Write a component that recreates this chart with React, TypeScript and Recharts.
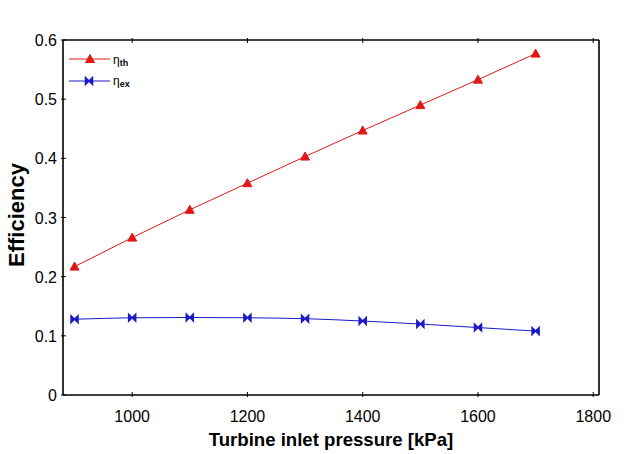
import * as React from 'react';
import { LineChart, Line, XAxis, YAxis, Customized } from 'recharts';

const pressures = [900, 1000, 1100, 1200, 1300, 1400, 1500, 1600, 1700];
const etaTh = [0.217, 0.266, 0.313, 0.358, 0.403, 0.447, 0.490, 0.533, 0.577];
const etaEx = [0.128, 0.1305, 0.131, 0.1305, 0.129, 0.125, 0.120, 0.114, 0.108];
const xTicks = [1000, 1200, 1400, 1600, 1800];
const yTicks = [0, 0.1, 0.2, 0.3, 0.4, 0.5, 0.6];

const data = pressures.map((p, i) => ({ p, th: etaTh[i], ex: etaEx[i] }));

const RED = '#e01818';
const BLUE = '#1a1ac8';
const FONT = '"Liberation Sans", Arial, sans-serif';

const Triangle = (props: any) => {
  const { cx, cy } = props;
  if (cx == null || cy == null) return null;
  return <path d={`M${cx},${cy - 4.5} L${cx + 4.5},${cy + 3.5} L${cx - 4.5},${cy + 3.5} Z`} fill={RED} stroke={RED} />;
};

const Bowtie = (props: any) => {
  const { cx, cy } = props;
  if (cx == null || cy == null) return null;
  return (
    <g stroke={BLUE} strokeWidth={1.5} fill={BLUE}>
      <path d={`M${cx - 3.5},${cy - 3.5} L${cx},${cy} L${cx - 3.5},${cy + 3.5} Z`} />
      <path d={`M${cx + 3.5},${cy - 3.5} L${cx},${cy} L${cx + 3.5},${cy + 3.5} Z`} />
    </g>
  );
};

const BottomTick = (props: any) => {
  const { x, y, payload } = props;
  return (
    <g>
      <line x1={x} y1={y} x2={x} y2={y - 5} stroke="#000" strokeWidth={1} />
      <text x={x} y={y + 25} textAnchor="middle" fontSize={16} fontFamily={FONT} fill="#000">
        {payload.value}
      </text>
    </g>
  );
};

const TopTick = (props: any) => {
  const { x, y } = props;
  return <line x1={x} y1={y} x2={x} y2={y + 5} stroke="#000" strokeWidth={1} />;
};

const LeftTick = (props: any) => {
  const { x, y, payload } = props;
  return (
    <g>
      <line x1={x} y1={y} x2={x + 5} y2={y} stroke="#000" strokeWidth={1} />
      <text x={x - 4} y={y + 6} textAnchor="end" fontSize={16} fontFamily={FONT} fill="#000">
        {payload.value}
      </text>
    </g>
  );
};

const RightTick = (props: any) => {
  const { x, y } = props;
  return <line x1={x} y1={y} x2={x - 5} y2={y} stroke="#000" strokeWidth={1} />;
};

const Overlay = () => (
  <g fontFamily={FONT}>
    <line x1={69} y1={59} x2={110} y2={59} stroke={RED} strokeWidth={1} />
    <Triangle cx={90} cy={59} />
    <text x={113} y={64} fontSize={12} fill="#000">
      η<tspan fontSize={9} fontWeight="bold" dy={2}>th</tspan>
    </text>
    <line x1={69} y1={81} x2={110} y2={81} stroke={BLUE} strokeWidth={1} />
    <Bowtie cx={89} cy={81} />
    <text x={113} y={85} fontSize={12} fill="#000">
      η<tspan fontSize={9} fontWeight="bold" dy={2}>ex</tspan>
    </text>
    <text x={331} y={446} textAnchor="middle" fontSize={18.6} fontWeight="bold" fill="#000">
      Turbine inlet pressure [kPa]
    </text>
    <text x={24} y={215} textAnchor="middle" fontSize={22} fontWeight="bold" fill="#000" transform="rotate(-90 24 215)">
      Efficiency
    </text>
  </g>
);

export default function App() {
  return (
    <div style={{ position: 'absolute', left: 0, top: 0, width: 640, height: 454, background: '#fff' }}>
      <LineChart width={640} height={454} data={data} margin={{ top: 39, right: 40, left: 0, bottom: 0 }}>
        <XAxis
          dataKey="p"
          type="number"
          domain={[880, 1810]}
          ticks={xTicks}
          allowDataOverflow
          height={59}
          tickSize={0}
          tickLine={false}
          tick={<BottomTick />}
          axisLine={{ stroke: '#000', strokeWidth: 1.6 }}
        />
        <XAxis
          xAxisId="top"
          orientation="top"
          dataKey="p"
          type="number"
          domain={[880, 1810]}
          ticks={xTicks}
          allowDataOverflow
          height={1}
          tickSize={0}
          tickLine={false}
          tick={<TopTick />}
          axisLine={{ stroke: '#000', strokeWidth: 1.6 }}
        />
        <YAxis
          type="number"
          domain={[0, 0.6]}
          ticks={yTicks}
          width={63}
          tickSize={0}
          tickLine={false}
          tick={<LeftTick />}
          axisLine={{ stroke: '#000', strokeWidth: 1.6 }}
        />
        <YAxis
          yAxisId="right"
          orientation="right"
          type="number"
          domain={[0, 0.6]}
          ticks={yTicks}
          width={1}
          tickSize={0}
          tickLine={false}
          tick={<RightTick />}
          axisLine={{ stroke: '#000', strokeWidth: 1.6 }}
        />
        <Line
          type="linear"
          dataKey="th"
          stroke={RED}
          strokeWidth={1}
          dot={<Triangle />}
          isAnimationActive={false}
        />
        <Line
          type="monotone"
          dataKey="ex"
          stroke={BLUE}
          strokeWidth={1}
          dot={<Bowtie />}
          isAnimationActive={false}
        />
        <Customized component={Overlay} />
      </LineChart>
    </div>
  );
}
